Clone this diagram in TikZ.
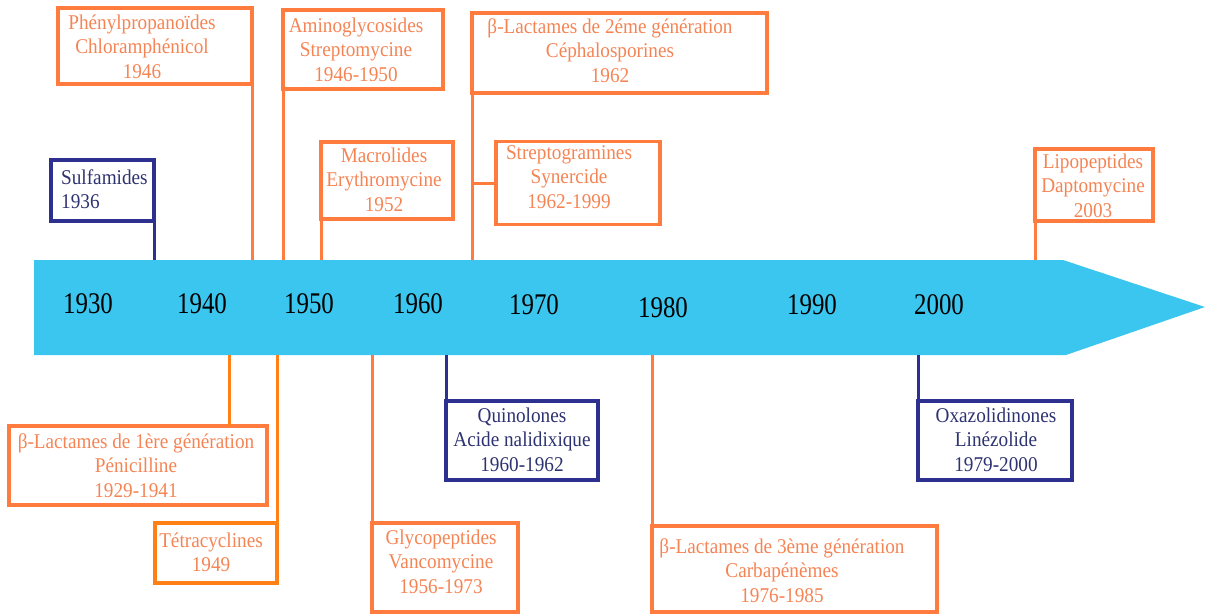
\documentclass[tikz,border=0pt]{standalone}
\usepackage{fontspec}
\setmainfont{Liberation Serif}
\newfontfamily\boxfont[FakeStretch=0.915]{Liberation Serif}
\newfontfamily\yearfont[FakeStretch=0.83]{Liberation Serif}
\definecolor{boxorange}{RGB}{255,124,62}
\definecolor{textorange}{RGB}{245,132,84}
\definecolor{pureorange}{RGB}{255,128,20}
\definecolor{navy}{RGB}{45,48,142}
\definecolor{navytext}{RGB}{45,50,112}
\definecolor{axiscyan}{RGB}{58,198,238}
\tikzset{
  obox/.style={draw=boxorange, line width=3.2pt, rectangle, inner sep=0pt, outer sep=0pt},
  pbox/.style={draw=pureorange, line width=3.2pt, rectangle, inner sep=0pt, outer sep=0pt},
  bbox/.style={draw=navy, line width=3.2pt, rectangle, inner sep=0pt, outer sep=0pt},
  olink/.style={draw=boxorange, line width=3pt},
  plink/.style={draw=pureorange, line width=3pt},
  blink/.style={draw=navy, line width=3pt},
  otext/.style={text=textorange, align=center, anchor=north, inner sep=0pt,
    font=\boxfont\fontsize{21}{24.7}\selectfont},
  btext/.style={text=navytext, align=center, anchor=north, inner sep=0pt,
    font=\boxfont\fontsize{21}{24.7}\selectfont},
  year/.style={anchor=base, inner sep=0pt, font=\yearfont\fontsize{30}{34}\selectfont}
}
\newcommand{\fl}{\rule{0pt}{18pt}}
\begin{document}
\begin{tikzpicture}[x=1pt,y=-1pt]
\path[use as bounding box] (0,0) rectangle (1208,614);
% axis arrow
\fill[axiscyan] (34,260) -- (1063,260) -- (1205,307) -- (1066,355) -- (34,355) -- cycle;
\node[year] (y1930) at (88,313) {1930};
\node[year] (y1940) at (202,313) {1940};
\node[year] (y1950) at (309,313) {1950};
\node[year] (y1960) at (418,313) {1960};
\node[year] (y1970) at (534,314) {1970};
\node[year] (y1980) at (663,317) {1980};
\node[year] (y1990) at (812,314) {1990};
\node[year] (y2000) at (939,314) {2000};
% axis edges
\coordinate (top) at (0,260);
\coordinate (bot) at (0,355);
% top boxes
\node[obox, minimum width=194pt, minimum height=76pt] (b1) at (155,46) {};
\node[otext] (t1) at (142,11) {\fl Phénylpropanoïdes\\Chloramphénicol\\1946};
\draw[olink] (b1.north east) -- (b1.north east |- top);
\node[obox, minimum width=160pt, minimum height=79pt] (b2) at (363,49.5) {};
\node[otext] (t2) at (356,14) {\fl Aminoglycosides\\Streptomycine\\1946-1950};
\draw[olink] (b2.north west) -- (b2.north west |- top);
\node[obox, minimum width=132pt, minimum height=77pt] (b3) at (387,180.5) {};
\node[otext] (t3) at (384,144) {\fl Macrolides\\Erythromycine\\1952};
\draw[olink] (b3.south west) -- (b3.south west |- top);
\node[bbox, minimum width=103pt, minimum height=61pt] (b4) at (102.5,190.5) {};
\node[btext, align=left, anchor=north west] (t4) at (61,166) {\fl Sulfamides\\1936};
\draw[blink] (b4.south east) -- (b4.south east |- top);
\node[obox, minimum width=295pt, minimum height=80pt] (b5) at (619.5,53) {};
\node[otext] (t5) at (610,15) {\fl β-Lactames de 2éme génération\\Céphalosporines\\1962};
\draw[olink] (b5.south west) -- (b5.south west |- top);
\node[obox, minimum width=164pt, minimum height=83pt] (b6) at (578,183) {};
\node[otext] (t6) at (569,141) {\fl Streptogramines\\Synercide\\1962-1999};
\draw[olink] (b6.west) -- (b6.west -| b5.south west);
\node[obox, minimum width=118pt, minimum height=72pt] (b7) at (1094,185) {};
\node[otext] (t7) at (1093,150) {\fl Lipopeptides\\Daptomycine\\2003};
\draw[olink] (b7.south west) -- (b7.south west |- top);
% bottom boxes
\node[obox, minimum width=258pt, minimum height=79pt] (b8) at (138,465.5) {};
\node[otext] (t8) at (136,430) {\fl β-Lactames de 1ère génération\\Pénicilline\\1929-1941};
\coordinate (c8) at (229,355);
\draw[plink] (c8) -- (c8 |- b8.north);
\node[pbox, minimum width=122pt, minimum height=60pt] (b9) at (216,553) {};
\node[otext] (t9) at (211,529) {\fl Tétracyclines\\1949};
\draw[plink] (b9.south east) -- (b9.south east |- bot);
\node[obox, minimum width=146pt, minimum height=89pt] (b10) at (445,567.5) {};
\node[otext] (t10) at (441,526) {\fl Glycopeptides\\Vancomycine\\1956-1973};
\draw[olink] (b10.north west) -- (b10.north west |- bot);
\node[bbox, minimum width=152pt, minimum height=79pt] (b11) at (522,440.5) {};
\node[btext] (t11) at (522,404) {\fl Quinolones\\Acide nalidixique\\1960-1962};
\draw[blink] (b11.north west) -- (b11.north west |- bot);
\node[obox, minimum width=285pt, minimum height=86pt] (b12) at (794.5,569) {};
\node[otext] (t12) at (782,535) {\fl β-Lactames de 3ème génération\\Carbapénèmes\\1976-1985};
\draw[olink] (b12.north west) -- (b12.north west |- bot);
\node[bbox, minimum width=154pt, minimum height=79pt] (b13) at (995,440.5) {};
\node[btext] (t13) at (996,404) {\fl Oxazolidinones\\Linézolide\\1979-2000};
\draw[blink] (b13.north west) -- (b13.north west |- bot);
\end{tikzpicture}
\end{document}
